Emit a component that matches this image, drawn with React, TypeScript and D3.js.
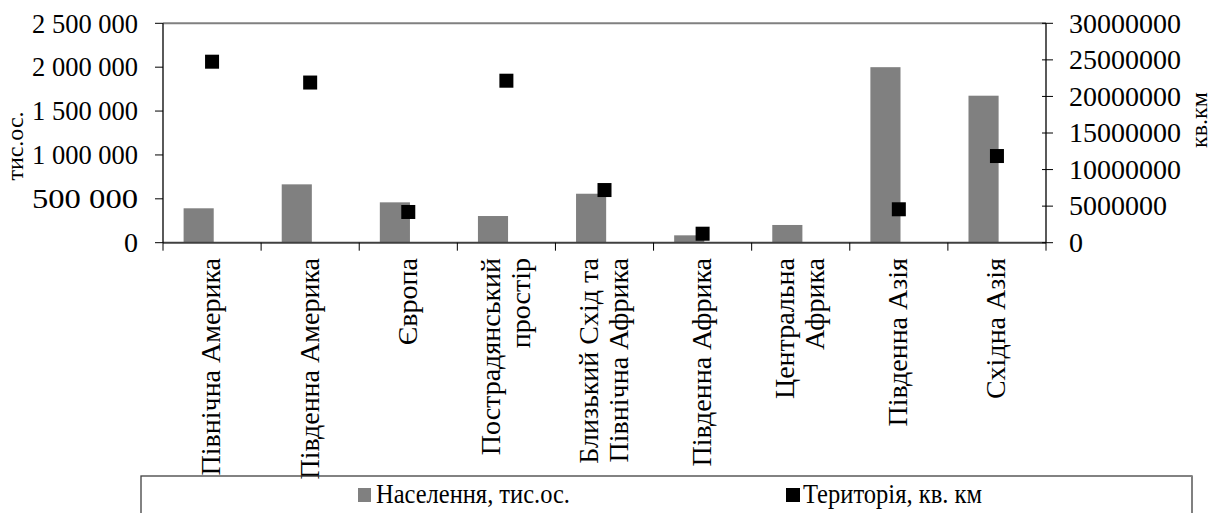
import React from "react";
import * as d3 from "d3";

const categories: string[][] = [
  ["Північна Америка"],
  ["Південна Америка"],
  ["Європа"],
  ["Пострадянський", "простір"],
  ["Близький Схід та", "Північна Африка"],
  ["Південна Африка"],
  ["Центральна", "Африка"],
  ["Південна Азія"],
  ["Східна Азія"],
];
const population: number[] = [392000, 665000, 460000, 304000, 558000, 84000, 202000, 2000000, 1675000];
const territory: (number | null)[] = [24750000, 21900000, 4200000, 22150000, 7200000, 1230000, null, 4570000, 11850000];
const leftTicks: number[] = [0, 500000, 1000000, 1500000, 2000000, 2500000];
const rightTicks: number[] = [0, 5000000, 10000000, 15000000, 20000000, 25000000, 30000000];
const leftTitle = "тис.ос.";
const rightTitle = "кв.км";
const legendLabels = ["Населення, тис.ос.", "Територія, кв. км"];

const FF = "Tinos, Times New Roman, Liberation Serif, serif";

export default function App() {
  const W = 1219, H = 513;
  const left = 163, right = 1046, top = 23.3, bottom = 242.7;
  const keys = categories.map((_, i) => String(i));
  const x = d3.scaleBand<string>().domain(keys).range([left, right]).padding(0);
  const bw = x.bandwidth();
  const yL = d3.scaleLinear().domain([0, 2500000]).range([bottom, top]);
  const yR = d3.scaleLinear().domain([0, 30000000]).range([bottom, top]);
  const fmtL = (v: number) => d3.format(",")(v).replace(/,/g, " ");
  const fs = 28;
  const sq = 14;

  return (
    <svg width={W} height={H} style={{ position: "absolute", left: 0, top: 0 }} fontFamily={FF}>
      <line x1={left} x2={right} y1={top} y2={top} stroke="#808080" strokeWidth={2} />
      {population.map((v, i) => (
        <rect key={"b" + i} x={(x(String(i)) as number) + bw * 0.21} width={bw * 0.307} y={yL(v)} height={bottom - yL(v)} fill="#808080" />
      ))}
      <line x1={left} x2={right} y1={bottom} y2={bottom} stroke="#404040" strokeWidth={2} />
      {keys.concat([String(categories.length)]).map((k, i) => {
        const xx = left + i * bw;
        return <line key={"ct" + i} x1={xx} x2={xx} y1={bottom} y2={bottom + 8} stroke="#000" strokeWidth={1} />;
      })}
      <line x1={left} x2={left} y1={top} y2={bottom} stroke="#000" strokeWidth={1.3} />
      {leftTicks.map((t) => (
        <g key={"lt" + t}>
          <line x1={left - 8} x2={left} y1={yL(t)} y2={yL(t)} stroke="#000" />
          <text x={138} y={yL(t)} dy="0.33em" textAnchor="end" fontSize={fs} textLength={t === 0 ? undefined : 106} lengthAdjust="spacingAndGlyphs">{fmtL(t)}</text>
        </g>
      ))}
      <line x1={right} x2={right} y1={top} y2={bottom} stroke="#000" strokeWidth={1.3} />
      {rightTicks.map((t) => (
        <g key={"rt" + t}>
          <line x1={right - 4} x2={right + 7} y1={yR(t)} y2={yR(t)} stroke="#000" />
          <text x={1069} y={yR(t)} dy="0.33em" textAnchor="start" fontSize={fs}>{String(t)}</text>
        </g>
      ))}
      <text transform={`translate(16,146) rotate(-90)`} textAnchor="middle" dy="0.3em" fontSize={24}>{leftTitle}</text>
      <text transform={`translate(1200,120) rotate(-90)`} textAnchor="middle" dy="0.3em" fontSize={24}>{rightTitle}</text>
      {territory.map((v, i) =>
        v == null ? null : (
          <rect key={"s" + i} x={(x(String(i)) as number) + bw / 2 - sq / 2} y={yR(v) - sq / 2} width={sq} height={sq} fill="#000" />
        )
      )}
      {categories.map((lines, i) => {
        const cx = (x(String(i)) as number) + bw / 2;
        const lh = 30;
        return lines.map((ln, j) => {
          const off = (j - (lines.length - 1) / 2) * lh;
          return (
            <text key={"cl" + i + "_" + j} transform={`translate(${cx + off},258) rotate(-90)`} textAnchor="end" dy="0.3em" fontSize={fs}>
              {ln}
            </text>
          );
        });
      })}
      <rect x={141} y={476} width={1192 - 141} height={60} fill="none" stroke="#404040" strokeWidth={1.3} />
      <line x1={1192} x2={1192} y1={476} y2={513} stroke="#808080" strokeWidth={2} />
      <rect x={358} y={488} width={13} height={14} fill="#808080" />
      <text x={376} y={503} fontSize={fs} textLength={194} lengthAdjust="spacingAndGlyphs">{legendLabels[0]}</text>
      <rect x={786} y={488} width={14} height={14} fill="#000" />
      <text x={803} y={503} fontSize={fs} textLength={179} lengthAdjust="spacingAndGlyphs">{legendLabels[1]}</text>
    </svg>
  );
}
